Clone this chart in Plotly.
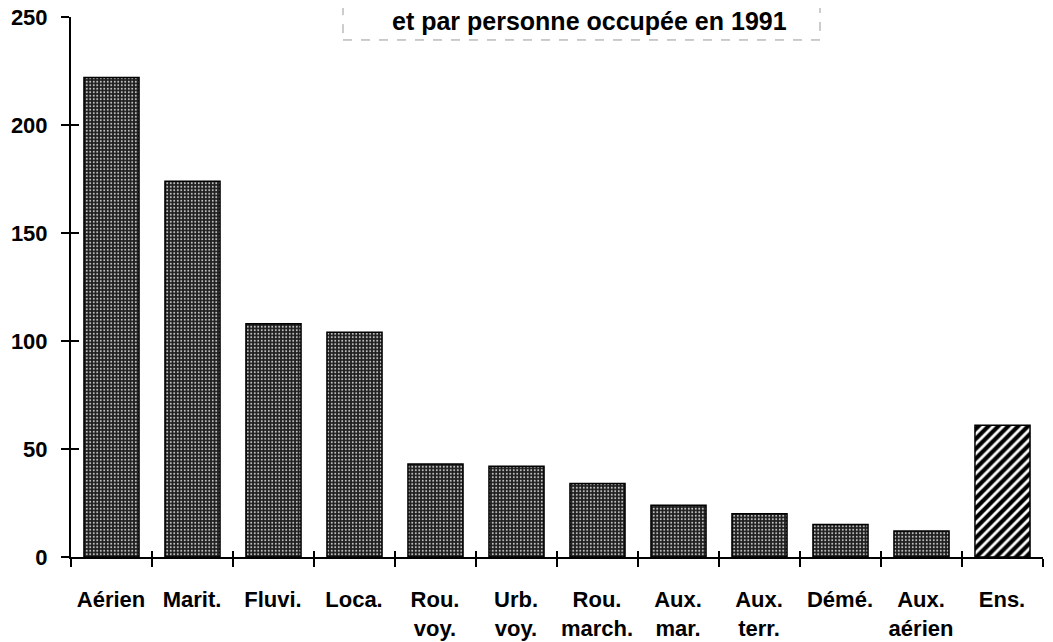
import plotly.graph_objects as go

categories = ["Aérien", "Marit.", "Fluvi.", "Loca.", "Rou.<br>voy.", "Urb.<br>voy.",
              "Rou.<br>march.", "Aux.<br>mar.", "Aux.<br>terr.", "Démé.", "Aux.<br>aérien", "Ens."]
values = [222, 174, 108, 104, 43, 42, 34, 24, 20, 15, 12, 61]
y_ticks = [0, 50, 100, 150, 200, 250]
title_text = "et par personne occupée en 1991"

n = len(categories)
x_idx = list(range(n))

FONT = dict(family="Liberation Sans, Arial, Helvetica, sans-serif", size=22, color="black", weight=700)
YFONT = dict(FONT, size=22)

fig = go.Figure()
# Sector bars (dotted fill)
fig.add_trace(go.Bar(
    x=x_idx[:-1], y=values[:-1], width=0.68, xaxis="x", yaxis="y",
    marker=dict(
        color="#262626",
        line=dict(color="black", width=1.5),
        pattern=dict(shape=".", bgcolor="#1e1e1e", fgcolor="#c8c8c8",
                     size=3.5, solidity=0.25, fillmode="replace"),
    ),
    showlegend=False, hoverinfo="skip",
))
# Total bar (hatched)
fig.add_trace(go.Bar(
    x=x_idx[-1:], y=values[-1:], width=0.68, xaxis="x2", yaxis="y2",
    marker=dict(
        color="black",
        line=dict(color="black", width=1.5),
        pattern=dict(shape="/", bgcolor="white", fgcolor="black",
                     size=7, solidity=0.6, fillmode="replace"),
    ),
    showlegend=False, hoverinfo="skip",
))

rng = [-0.5, n - 0.5]
bounds = [i - 0.5 for i in range(n + 1)]
label_text = categories + [""]
cat_px = 972 / n

# page body has an 8px margin: compensate so the plot area sits where the reference has it
fig.update_layout(
    width=1053, height=642,
    margin=dict(l=63, r=18, t=9, b=92.5),
    paper_bgcolor="white", plot_bgcolor="white",
    font=FONT,
    xaxis=dict(range=rng, tickmode="array", tickvals=bounds, ticktext=label_text,
               ticklabelshift=int(round(cat_px / 2)), ticklabeloverflow="allow",
               ticks="outside", ticklen=8, tickwidth=1.5, tickcolor="black",
               showline=True, linecolor="black", linewidth=2,
               showgrid=False, zeroline=False, automargin=False,
               tickfont=FONT, ticklabelstandoff=14),
    xaxis2=dict(range=rng, overlaying="x", anchor="y2", side="bottom",
                tickmode="array", tickvals=bounds, showticklabels=False,
                ticks="inside", ticklen=6, tickwidth=1.5, tickcolor="black",
                showline=False, showgrid=False, zeroline=False, automargin=False),
    yaxis=dict(range=[0, 250], tickmode="array", tickvals=y_ticks,
               ticks="outside", ticklen=8, tickwidth=1.5, tickcolor="black",
               showline=True, linecolor="black", linewidth=2,
               showgrid=False, zeroline=False, automargin=False,
               ticklabeloverflow="allow",
               tickfont=YFONT, ticklabelstandoff=9),
    yaxis2=dict(range=[0, 250], overlaying="y", anchor="x2", side="left",
                tickmode="array", tickvals=y_ticks, showticklabels=False,
                ticks="inside", ticklen=8, tickwidth=1.5, tickcolor="black",
                showline=False, showgrid=False, zeroline=False, automargin=False),
)

# Title box (dashed, cut at top of the page)
fig.add_shape(type="rect", xref="paper", yref="paper",
              x0=(343 - 71) / 972, x1=(820 - 71) / 972,
              y0=(557.5 - 40) / 540.5, y1=(557.5 + 40) / 540.5,
              line=dict(color="#999999", width=1, dash="dash"), fillcolor="rgba(0,0,0,0)",
              layer="above")
fig.add_annotation(text=title_text, xref="paper", yref="paper",
                   x=(589 - 71) / 972, y=(557.5 - 37) / 540.5,
                   xanchor="center", yanchor="bottom", showarrow=False,
                   font=dict(family="Liberation Sans, Arial, sans-serif", size=25,
                             color="black", weight=700))

fig.write_html("out.html")
